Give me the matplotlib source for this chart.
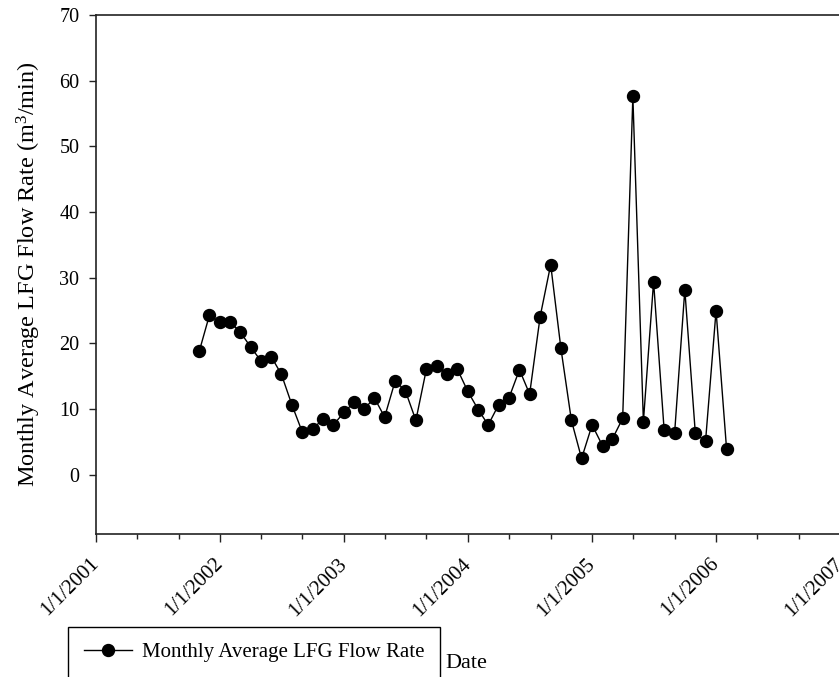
import pandas as pd
import numpy as np
from matplotlib import pyplot as plt
import matplotlib.dates as mdates
from matplotlib.ticker import FuncFormatter

plt.rcParams['font.family'] = ['Liberation Serif', 'DejaVu Serif']
plt.rcParams['mathtext.fontset'] = 'custom'
plt.rcParams['mathtext.rm'] = 'Liberation Serif'
plt.rcParams['mathtext.it'] = 'Liberation Serif:italic'

# ----- data -----
months = pd.date_range('2001-11-01', periods=52, freq='MS')
flow = [18.8, 24.3, 23.2, 23.2, 21.8, 19.5, 17.4, 18.0, 15.3, 10.65,
        6.45, 7.0, 8.5, 7.6, 9.5, 11.1, 10.0, 11.7, 8.8, 14.3,
        12.8, 8.3, 16.1, 16.5, 15.3, 16.1, 12.7, 9.9, 7.6, 10.7,
        11.7, 16.0, 12.3, 24.1, 32.0, 19.3, 8.3, 2.5, 7.6, 4.4,
        5.4, 8.6, 57.6, 8.1, 29.4, 6.9, 6.4, 28.2, 6.3, 5.1,
        25.0, 3.9]
yticks = [0, 10, 20, 30, 40, 50, 60, 70]
series_name = "Monthly Average LFG Flow Rate"

W, H = 839, 677
fig = plt.figure(figsize=(W / 100, H / 100), dpi=100)
# axes box in pixels: left 96, right 840, top 15, bottom 534
ax = fig.add_axes([96 / W, (H - 534) / H, 744 / W, 519 / H])

ax.plot(months, flow, color='black', linewidth=1.0, marker='o',
        markersize=8.6, markerfacecolor='black', markeredgecolor='black',
        label=series_name)

ax.set_xlim(pd.Timestamp('2001-01-01'), pd.Timestamp('2007-01-01'))
ax.set_ylim(-9, 70)
ax.set_yticks(yticks)

ax.xaxis.set_major_locator(mdates.YearLocator())
ax.xaxis.set_minor_locator(mdates.MonthLocator(bymonth=[5, 9]))
ax.xaxis.set_major_formatter(FuncFormatter(
    lambda v, pos: "{d.month}/{d.day}/{d.year}".format(d=mdates.num2date(v))))

for s in ['left', 'bottom', 'top']:
    ax.spines[s].set_linewidth(1.2)
    ax.spines[s].set_color('#222222')
ax.spines['right'].set_visible(False)

ax.tick_params(axis='y', direction='out', length=5, width=1.0, pad=7,
               labelsize=14.5, color='#222222')
ax.tick_params(axis='x', which='major', direction='out', length=5.5, width=1.0,
               pad=14, labelsize=15, color='#222222')
ax.tick_params(axis='x', which='minor', direction='out', length=3.5, width=1.0,
               color='#222222')
for lab in ax.get_xticklabels():
    lab.set_rotation(45)
    lab.set_ha('right')
    lab.set_va('center')
    lab.set_rotation_mode('anchor')

ax.set_ylabel("Monthly Average LFG Flow Rate (m$^3$/min)", fontsize=17.5)
ax.yaxis.set_label_coords(-0.071, 0.5)
ax.set_xlabel("Date", fontsize=16, ha='left', va='baseline')
ax.xaxis.set_label_coords((445 - 96) / 744, (534 - 668) / 519)

leg = fig.legend(loc='upper left', bbox_to_anchor=(68 / W, 1 - 627 / H),
                 fontsize=15, frameon=True, fancybox=False, framealpha=1,
                 edgecolor='black', borderpad=0.75, handlelength=2.3,
                 handletextpad=0.5, borderaxespad=0)
leg.get_frame().set_linewidth(1.0)

fig.savefig('out.png', dpi=100)
